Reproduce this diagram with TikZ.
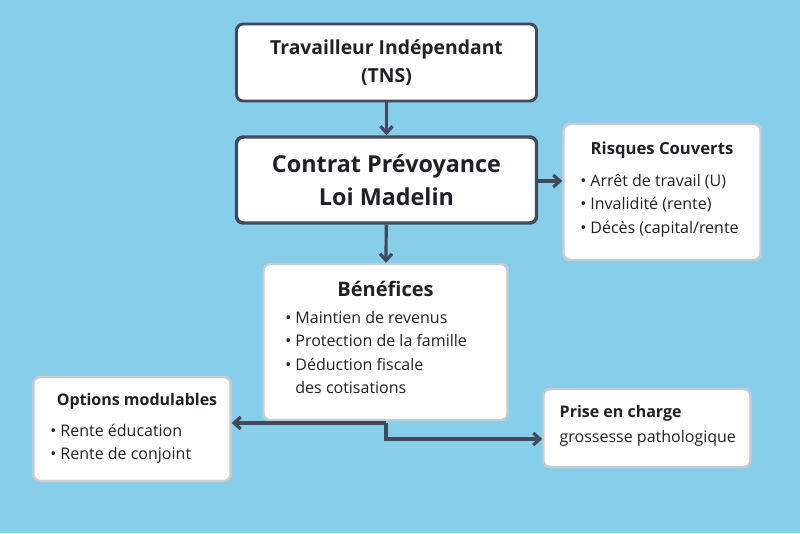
\documentclass[tikz,border=0pt]{standalone}
\usepackage{fontspec}
\setmainfont{Open Sans}
\usetikzlibrary{arrows.meta}
\definecolor{bg}{HTML}{87CEEB}
\definecolor{dark}{HTML}{3F4B5C}
\definecolor{lgray}{HTML}{C8CCD0}
\definecolor{txt}{HTML}{1E2226}
\begin{document}
\begin{tikzpicture}[x=0.75pt,y=-0.75pt,
  mainbox/.style={draw=dark,line width=2.2pt,fill=white,rounded corners=5pt,text=txt,align=center},
  sidebox/.style={draw=lgray,line width=1.8pt,fill=white,rounded corners=5pt,text=txt},
  conn/.style={draw=dark,line width=2.4pt,-{Straight Barb[length=5pt,width=9pt]}},
  itm/.style={font=\fontsize{12}{17.5}\selectfont,align=left,anchor=north west,inner sep=0pt,text=txt}]
\useasboundingbox (0,0) rectangle (800,533);
\fill[bg] (0,0) rectangle (800,533);
% boxes
\node[mainbox,minimum width=300pt*0.75,minimum height=77pt*0.75,font=\bfseries\fontsize{14.5}{21}\selectfont] (tns) at (386.5,62.5)
  {Travailleur Indépendant\\ (TNS)};
\node[mainbox,line width=2.6pt,minimum width=300pt*0.75,minimum height=86pt*0.75,font=\bfseries\fontsize{17.5}{25}\selectfont] (contrat) at (386.5,180)
  {Contrat Prévoyance\\ Loi Madelin};
\node[sidebox,minimum width=197pt*0.75,minimum height=136pt*0.75] (risq) at (662,192) {};
\node[sidebox,minimum width=244pt*0.75,minimum height=156pt*0.75] (ben) at (385.5,342) {};
\node[sidebox,minimum width=197pt*0.75,minimum height=104pt*0.75] (opt) at (132,429) {};
\node[sidebox,minimum width=207pt*0.75,minimum height=78pt*0.75] (prise) at (647,428) {};
% texts
\node[font=\bfseries\fontsize{12.5}{15}\selectfont,text=txt] (rt) at (662,150) {Risques Couverts};
\node[itm] (ri) at (580,174) {• Arrêt de travail (U)\\• Invalidité (rente)\\• Décès (capital/rente};
\node[font=\bfseries\fontsize{15}{18}\selectfont,text=txt] (bt) at (385.5,289) {Bénéfices};
\node[itm] (bi) at (285,311) {• Maintien de revenus\\• Protection de la famille\\• Déduction fiscale\\\phantom{• }des cotisations};
\node[font=\bfseries\fontsize{12}{15}\selectfont,text=txt] (ot) at (137,401) {Options modulables};
\node[itm] (oi) at (50,424) {• Rente éducation\\• Rente de conjoint};
\node[font=\bfseries\fontsize{12}{15}\selectfont,text=txt,anchor=west] (pt) at (555,413) {Prise en charge};
\node[font=\fontsize{12}{15}\selectfont,text=txt,anchor=west] (pg) at (555,438) {grossesse pathologique};
% connectors
\draw[conn] (tns) -- (contrat);
\draw[conn] (contrat.east |- 0,181) -- (risq.west |- 0,181);
\draw[conn] (contrat) -- (ben);
\coordinate (j) at (386,423);
\draw[conn] (j) -- (opt.east |- j);
\draw[conn] (j) |- (prise.west |- 0,439);
\end{tikzpicture}
\end{document}
